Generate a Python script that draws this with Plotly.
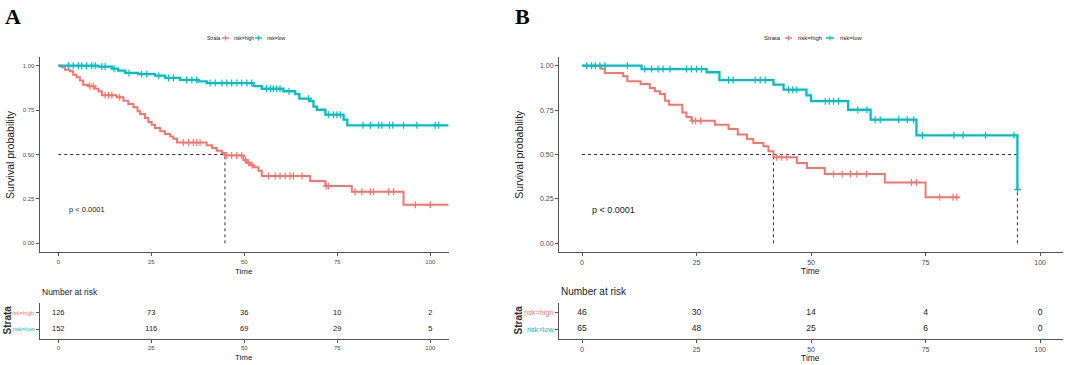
import numpy as np
import plotly.graph_objects as go

RED = "#F8766D"
CYAN = "#00BFC4"

# ---------------- data: panel A ----------------
a_high_t = [0, 0.9, 1.8, 3.1, 4.0, 4.9, 5.8, 6.7, 8.1, 9.9, 10.8, 11.7, 15.7, 17.5, 18.8, 20.2,
            21.3, 22.0, 23.3, 24.2, 25.1, 26.0, 27.4, 28.7, 30.1, 30.9, 31.9, 39.9, 41.3, 42.6,
            44.0, 44.8, 49.8, 50.7, 51.6, 52.5, 53.8, 54.7, 67.7, 71.8, 78.9, 92.8]
a_high_s = [1.0, 0.991, 0.977, 0.968, 0.949, 0.935, 0.916, 0.893, 0.884, 0.870, 0.856, 0.833,
            0.822, 0.803, 0.784, 0.766, 0.743, 0.728, 0.706, 0.683, 0.668, 0.649, 0.631, 0.615,
            0.602, 0.589, 0.567, 0.552, 0.537, 0.521, 0.508, 0.495, 0.469, 0.454, 0.440, 0.428,
            0.409, 0.379, 0.351, 0.323, 0.291, 0.217]
a_high_end = 104.9
a_high_cens = [8.5, 9.4, 12.6, 13.5, 14.4, 16.5, 33.6, 35.0, 36.3, 37.2, 38.1, 45.3, 46.6, 48.0,
               49.3, 50.3, 51.2, 52.1, 56.5, 58.3, 59.6, 61.0, 62.3, 63.2, 65.5, 72.0, 72.6,
               79.8, 81.6, 83.9, 84.7, 88.8, 90.1, 96.0, 100.0]

a_low_t = [0, 10.8, 14.4, 16.1, 18.0, 21.5, 26.0, 28.7, 32.7, 37.7, 39.9, 52.5, 54.7, 60.5,
           63.7, 64.8, 67.7, 68.6, 69.5, 71.8, 76.7, 77.7]
a_low_s = [1.0, 0.995, 0.983, 0.972, 0.959, 0.953, 0.944, 0.931, 0.920, 0.912, 0.902, 0.885,
           0.870, 0.856, 0.840, 0.814, 0.800, 0.770, 0.752, 0.724, 0.696, 0.664]
a_low_end = 104.9
a_low_cens = [2.7, 4.0, 5.4, 6.3, 7.6, 9.0, 9.9, 11.7, 12.6, 15.0, 19.0, 22.4, 23.8, 27.0, 29.6,
              31.0, 34.5, 35.9, 37.2, 40.8, 42.2, 44.0, 45.3, 46.6, 48.0, 49.3, 50.7, 52.0,
              56.0, 57.0, 57.8, 58.7, 59.6, 62.0, 67.3, 72.6, 74.0, 74.9, 75.8, 81.9, 83.9,
              86.1, 87.0, 89.0, 89.9, 92.8, 96.4, 101.3, 102.2]

# ---------------- data: panel B ----------------
b_high_t = [0, 4.2, 5.0, 9.0, 9.9, 12.8, 14.8, 15.9, 17.0, 18.1, 19.0, 21.9, 22.8, 23.9, 29.0,
            32.0, 34.0, 36.0, 37.4, 39.6, 40.7, 41.8, 46.9, 49.1, 53.0, 66.1, 75.0]
b_high_s = [1.0, 0.983, 0.959, 0.940, 0.912, 0.897, 0.874, 0.856, 0.841, 0.803, 0.780, 0.737,
            0.711, 0.690, 0.668, 0.644, 0.612, 0.587, 0.565, 0.546, 0.518, 0.484, 0.452, 0.424,
            0.390, 0.343, 0.259]
b_high_end = 82.3
b_high_cens = [24.1, 24.8, 25.9, 42.5, 43.6, 44.7, 54.9, 56.8, 58.6, 60.0, 62.1, 71.9, 73.0,
               78.1, 81.0, 81.8]

b_low_t = [0, 13.0, 27.2, 30.0, 41.8, 44.0, 49.0, 50.0, 58.1, 63.0, 73.0, 95.05]
b_low_s = [1.0, 0.981, 0.963, 0.919, 0.893, 0.865, 0.833, 0.800, 0.752, 0.696, 0.608, 0.302]
b_low_end = 95.05
b_low_cens = [1.0, 2.1, 2.9, 3.9, 5.0, 9.9, 13.7, 15.2, 16.6, 17.7, 19.2, 22.8, 23.9, 25.0,
              26.1, 32.0, 33.0, 37.8, 38.9, 40.0, 45.1, 46.0, 46.9, 53.1, 54.0, 54.9, 56.0,
              60.2, 62.2, 64.0, 65.1, 69.1, 71.0, 72.4, 74.3, 81.2, 83.2, 88.1, 94.3, 95.05]

# ---------------- risk tables ----------------
risk_times = [0, 25, 50, 75, 100]
a_risk_high = [126, 73, 36, 10, 2]
a_risk_low = [152, 116, 69, 29, 5]
b_risk_high = [46, 30, 14, 4, 0]
b_risk_low = [65, 48, 25, 6, 0]
strata = ["risk=high", "risk=low"]

x_ticks = [0, 25, 50, 75, 100]
y_ticks = [0, 0.25, 0.5, 0.75, 1.0]
y_ticklabels = ["0.00", "0.25", "0.50", "0.75", "1.00"]
pval_text = "p < 0.0001"

# ---------------- layout helpers ----------------
W, H = 1065, 365
REG = "Liberation Sans, Arial, sans-serif"
SERIF = "Liberation Serif, Times New Roman, DejaVu Serif, serif"
AXC = "#555555"
TXC = "#4D4D4D"


def fx(p):
    return p / W


def fy(p):
    return 1 - p / H


fig = go.Figure()
annotations = []
shapes = []


def ann(text, x, y, size, family=REG, color="#222222", xanchor="center", angle=0, xref="paper", yref="paper"):
    annotations.append(dict(
        text=text, x=fx(x) if xref == "paper" else x, y=fy(y) if yref == "paper" else y,
        xref=xref, yref=yref, xanchor=xanchor, yanchor="middle", showarrow=False,
        textangle=angle, font=dict(size=size, family=family, color=color)))


def step_lookup(times, surv, t):
    idx = np.searchsorted(np.array(times), np.array(t), side="right") - 1
    return [surv[i] for i in idx]


def median_time(times, surv):
    for t, s in zip(times, surv):
        if s <= 0.5:
            return t
    return None


panels = [
    dict(key="A", xk="x", yk="y", xrk="x2", yrk="y2", left=39.7, right=448.9,
         curves=[(a_high_t, a_high_s, a_high_end, a_high_cens, RED, 2.0),
                 (a_low_t, a_low_s, a_low_end, a_low_cens, CYAN, 2.3)],
         risk=[a_risk_high, a_risk_low],
         tick_size=6, num_size=7.5, time_size=8, nar_size=8.5, p_size=7.5, lab_size=6, leg_size=5,
         letter_x=3, leg=[205, 222, 229, 232, 255, 262, 265], survlab_x=9.5, strata_x=6.5,
         p_x=2.3),
    dict(key="B", xk="x3", yk="y3", xrk="x4", yrk="y4", left=559.1, right=1063.0,
         curves=[(b_high_t, b_high_s, b_high_end, b_high_cens, RED, 2.0),
                 (b_low_t, b_low_s, b_low_end, b_low_cens, CYAN, 2.3)],
         risk=[b_risk_high, b_risk_low],
         tick_size=7, num_size=8.5, time_size=8.5, nar_size=10, p_size=9, lab_size=7.3, leg_size=6,
         letter_x=513, leg=[762, 785, 792, 796, 826, 834, 837.5], survlab_x=518.3, strata_x=517.5,
         p_x=1.8),
]

axis_common = dict(showline=True, linecolor=AXC, linewidth=1.3, ticks="outside", ticklen=3,
                   tickcolor=AXC, tickwidth=1, showgrid=False, zeroline=False, fixedrange=True)

layout_axes = {}
for i, P in enumerate(panels):
    n_km = 2 * i + 1
    n_rk = 2 * i + 2
    xname_km = "xaxis" if n_km == 1 else f"xaxis{n_km}"
    yname_km = "yaxis" if n_km == 1 else f"yaxis{n_km}"
    xname_rk = f"xaxis{n_rk}"
    yname_rk = f"yaxis{n_rk}"
    dom_x = [fx(P["left"]), fx(P["right"])]
    tf = dict(size=P["tick_size"], family=REG, color=TXC)
    layout_axes[xname_km] = dict(axis_common, domain=dom_x, range=[-5, 105], tickvals=x_ticks,
                                 anchor=P["yk"], tickfont=tf)
    layout_axes[yname_km] = dict(axis_common, domain=[fy(252.2), fy(56.8)], range=[-0.05, 1.05],
                                 tickvals=y_ticks, ticktext=y_ticklabels, anchor=P["xk"], tickfont=tf)
    layout_axes[xname_rk] = dict(axis_common, domain=dom_x, range=[-5, 105], tickvals=x_ticks,
                                 anchor=P["yrk"], tickfont=tf)
    layout_axes[yname_rk] = dict(axis_common, domain=[fy(339), fy(303)], range=[0.4, 2.6],
                                 tickvals=[2, 1],
                                 ticktext=[f'<span style="color:{RED}">{strata[0]}</span>',
                                           f'<span style="color:{CYAN}">{strata[1]}</span>'],
                                 anchor=P["xrk"],
                                 tickfont=dict(size=P["lab_size"], family=REG, color=TXC))

    # median reference lines
    meds = [median_time(c[0], c[1]) for c in P["curves"]]
    meds = [m for m in meds if m is not None]
    if meds:
        fig.add_trace(go.Scatter(x=[0, max(meds)], y=[0.5, 0.5], mode="lines",
                                 line=dict(color="#333333", width=1, dash="3px,3px"),
                                 xaxis=P["xk"], yaxis=P["yk"], hoverinfo="skip", showlegend=False))
        for m in meds:
            fig.add_trace(go.Scatter(x=[m, m], y=[0, 0.5], mode="lines",
                                     line=dict(color="#333333", width=1, dash="3px,3px"),
                                     xaxis=P["xk"], yaxis=P["yk"], hoverinfo="skip", showlegend=False))

    # survival curves
    for (tt, ss, end, cens, col, lw) in P["curves"]:
        fig.add_trace(go.Scatter(x=list(tt) + [end], y=list(ss) + [ss[-1]], mode="lines",
                                 line=dict(color=col, width=lw, shape="hv"),
                                 xaxis=P["xk"], yaxis=P["yk"], hoverinfo="skip", showlegend=False))
        fig.add_trace(go.Scatter(x=cens, y=step_lookup(tt, ss, cens), mode="markers",
                                 marker=dict(symbol="cross-thin", size=5, color=col,
                                             line=dict(color=col, width=1.2)),
                                 xaxis=P["xk"], yaxis=P["yk"], hoverinfo="skip", showlegend=False))

    # risk table numbers
    for vals, yv in zip(P["risk"], [2, 1]):
        fig.add_trace(go.Scatter(x=risk_times, y=[yv] * len(vals), mode="text",
                                 text=[str(v) for v in vals], textposition="middle center",
                                 textfont=dict(size=P["num_size"], family=REG, color="#222222"),
                                 xaxis=P["xrk"], yaxis=P["yrk"], hoverinfo="skip", showlegend=False,
                                 cliponaxis=False))

    # text
    ann("<b>" + P["key"] + "</b>", P["letter_x"], 16, 22, SERIF, color="#000000", xanchor="left")
    L = P["leg"]
    ann("Strata", L[0], 38, P["leg_size"], xanchor="left")
    ann(strata[0], L[3], 38, P["leg_size"], xanchor="left")
    ann(strata[1], L[6], 38, P["leg_size"], xanchor="left")
    for (a, b, col) in [(L[1], L[2], RED), (L[4], L[5], CYAN)]:
        shapes.append(dict(type="line", xref="paper", yref="paper", x0=fx(a), x1=fx(b),
                           y0=fy(38), y1=fy(38), line=dict(color=col, width=1.5)))
        shapes.append(dict(type="line", xref="paper", yref="paper", x0=fx((a + b) / 2),
                           x1=fx((a + b) / 2), y0=fy(35.5), y1=fy(40.5), line=dict(color=col, width=1)))
    ann("Survival probability", P["survlab_x"], 154.5, 10.5, angle=-90)
    cx = (P["left"] + P["right"]) / 2 - 0.5
    ann("Time", cx, 271, P["time_size"])
    ann("Number at risk", P["left"], 291.5, P["nar_size"], xanchor="left")
    ann("<b>Strata</b>", P["strata_x"], 320, 10, color="#333333", angle=-90)
    ann("Time", cx, 357.5, P["time_size"])
    ann(pval_text, P["p_x"], 0.19, P["p_size"], xanchor="left", xref=P["xk"], yref=P["yk"])

fig.update_layout(
    width=W, height=H, autosize=False,
    margin=dict(l=0, r=0, t=0, b=0, pad=0),
    paper_bgcolor="white", plot_bgcolor="white",
    showlegend=False,
    annotations=annotations, shapes=shapes,
    **layout_axes,
)

fig.write_html("out.html", config={"displayModeBar": False},
               post_script="document.body.style.margin='0';document.body.style.padding='0';")
